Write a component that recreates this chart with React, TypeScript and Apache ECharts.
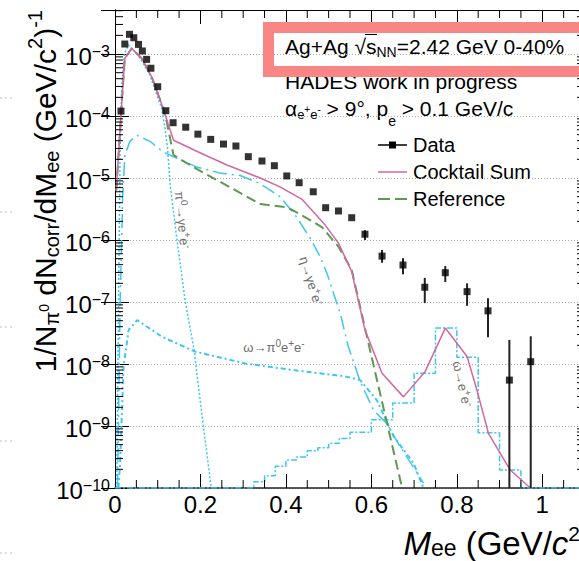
import React, { useEffect, useRef } from "react";
import * as echarts from "echarts";

const FONT = "'Liberation Sans', Arial, Helvetica, sans-serif";
const CYAN = "#3ec6f2";
const PINK = "#d3679f";
const GREEN = "#5b9a50";
const LABEL_GRAY = "#6e6e6e";

const X_MIN = 0;
const X_MAX = 1.1;
const Y_MIN = 1e-10;
const Y_MAX = 5.13e-3;

// tick labels
const xTickLabels = ["0", "0.2", "0.4", "0.6", "0.8", "1"];
const xMinorTicks = [0.05, 0.1, 0.15, 0.25, 0.3, 0.35, 0.45, 0.5, 0.55, 0.65, 0.7, 0.75, 0.85, 0.9, 0.95, 1.05];
const yDecades = [-10, -9, -8, -7, -6, -5, -4, -3];
const yMinorMultipliers = [2, 3, 4, 5, 6, 7, 8, 9];

// Data points
const dataMass = [0.014, 0.023, 0.034, 0.044, 0.055, 0.064, 0.074, 0.084, 0.1, 0.119, 0.136, 0.1655, 0.194, 0.224, 0.254, 0.283, 0.312, 0.344, 0.373, 0.402, 0.431, 0.464, 0.493, 0.523, 0.554, 0.585, 0.625, 0.674, 0.725, 0.773, 0.824, 0.873, 0.923, 0.973];
const dataYield = [1.2e-4, 1.45e-3, 2.08e-3, 1.83e-3, 1.43e-3, 1.12e-3, 8.2e-4, 5.9e-4, 2.97e-4, 1.22e-4, 7.8e-5, 6.6e-5, 5.1e-5, 4.2e-5, 3.53e-5, 3.28e-5, 2.21e-5, 1.88e-5, 1.58e-5, 1.08e-5, 8.4e-6, 6.0e-6, 3.32e-6, 2.94e-6, 2.29e-6, 1.24e-6, 5.5e-7, 3.95e-7, 1.73e-7, 2.97e-7, 1.47e-7, 7.2e-8, 5.5e-9, 1.09e-8];

// error bars (only where visible)
const errMass = [0.585, 0.625, 0.674, 0.725, 0.773, 0.824, 0.873, 0.923, 0.973];
const errLow = [1.0e-6, 4.3e-7, 2.8e-7, 9.6e-8, 2.1e-7, 8.7e-8, 2.7e-8, 1e-10, 1e-10];
const errHigh = [1.44e-6, 6.9e-7, 5.1e-7, 2.45e-7, 3.8e-7, 2.0e-7, 1.15e-7, 2.45e-8, 2.8e-8];

// Cocktail sum
const sumMass = [0.003, 0.016, 0.023, 0.039, 0.0625, 0.086, 0.109, 0.137, 0.195, 0.262, 0.34, 0.386, 0.437, 0.492, 0.523, 0.554, 0.585, 0.625, 0.675, 0.726, 0.773, 0.824, 0.847, 0.874, 0.902, 0.925, 0.972];
const sumYield = [6.3e-6, 1.7e-4, 8.5e-4, 1.23e-3, 8.5e-4, 4.27e-4, 1.58e-4, 4.07e-5, 2.63e-5, 1.62e-5, 1.0e-5, 7.2e-6, 4.57e-6, 1.74e-6, 8.9e-7, 3.09e-7, 3.55e-8, 7.1e-9, 2.95e-9, 7.6e-9, 3.8e-8, 1.32e-8, 3.8e-9, 7.6e-10, 3.6e-10, 1.95e-10, 1.0e-10];

// Reference
const refMass = [0.003, 0.016, 0.023, 0.039, 0.0625, 0.086, 0.109, 0.121, 0.137, 0.156, 0.195, 0.246, 0.3, 0.34, 0.402, 0.437, 0.484, 0.523, 0.554, 0.585, 0.628, 0.672];
const refYield = [6.3e-6, 1.7e-4, 8.5e-4, 1.23e-3, 8.5e-4, 4.27e-4, 1.58e-4, 8.1e-5, 2.34e-5, 1.95e-5, 1.35e-5, 8.7e-6, 5.4e-6, 3.8e-6, 3.39e-6, 2.51e-6, 1.62e-6, 7.8e-7, 3.3e-7, 3.8e-8, 2.0e-9, 1.0e-10];

// pi0 -> gamma e+e-
const pi0Mass = [0.004, 0.009, 0.012, 0.016, 0.022, 0.031, 0.045, 0.06, 0.08, 0.098, 0.109, 0.117, 0.123, 0.129, 0.145, 0.164, 0.185, 0.204, 0.219, 0.225];
const pi0Yield = [1e-10, 3.2e-7, 3.2e-5, 3.2e-4, 1.0e-3, 1.41e-3, 1.12e-3, 8.3e-4, 4.8e-4, 2.19e-4, 1.35e-4, 6.3e-5, 3.0e-5, 7.9e-6, 1.0e-6, 1.07e-7, 1.7e-8, 1.41e-9, 2.2e-10, 1e-10];

// eta -> gamma e+e-
const etaMass = [0.006, 0.012, 0.018, 0.023, 0.035, 0.051, 0.082, 0.113, 0.144, 0.191, 0.246, 0.293, 0.34, 0.386, 0.422, 0.457, 0.48, 0.496, 0.527, 0.546, 0.575, 0.605, 0.636, 0.667, 0.722];
const etaYield = [1e-10, 1e-7, 5.0e-6, 2.34e-5, 3.9e-5, 4.9e-5, 3.9e-5, 2.63e-5, 2.09e-5, 1.51e-5, 1.2e-5, 1.1e-5, 8.1e-6, 5.0e-6, 2.51e-6, 1.07e-6, 5.4e-7, 2.9e-7, 6.6e-8, 1.9e-8, 5.0e-9, 1.8e-9, 1.1e-9, 4.7e-10, 1.2e-10];

// omega -> pi0 e+e-
const omdMass = [0.008, 0.012, 0.02, 0.032, 0.052, 0.11, 0.188, 0.305, 0.422, 0.539, 0.574, 0.613, 0.652, 0.699, 0.722];
const omdYield = [1e-10, 2.5e-10, 9.1e-9, 3.55e-8, 5.1e-8, 2.75e-8, 1.58e-8, 1.02e-8, 7.9e-9, 6.3e-9, 5.5e-9, 2.6e-9, 6.8e-10, 2.5e-10, 1e-10];

// omega -> e+e- (histogram)
const histEdges = [0.325, 0.35, 0.375, 0.4, 0.425, 0.45, 0.475, 0.5, 0.525, 0.55, 0.6, 0.65, 0.7, 0.75, 0.8, 0.85, 0.9, 0.95];
const histValues = [1.26e-10, 1.58e-10, 2.24e-10, 2.82e-10, 3.16e-10, 3.98e-10, 4.47e-10, 5.25e-10, 6.3e-10, 7.9e-10, 1.26e-9, 2.34e-9, 7.1e-9, 3.8e-8, 1.29e-8, 7.8e-10, 1.95e-10];

const pairs = (xs: number[], ys: number[]) => xs.map((x, i) => [x, ys[i]]);

function buildOption(): any {
  const histLine: number[][] = [[X_MIN, Y_MIN], [histEdges[0], Y_MIN]];
  histValues.forEach((v, i) => {
    histLine.push([histEdges[i], v], [histEdges[i + 1], v]);
  });
  histLine.push([histEdges[histEdges.length - 1], Y_MIN], [X_MAX, Y_MIN]);

  const yMinor: number[][] = [];
  yDecades.forEach((e) =>
    yMinorMultipliers.forEach((k) => {
      const v = k * Math.pow(10, e);
      if (v < Y_MAX) yMinor.push([X_MIN, v]);
    })
  );

  const curve = (name: string, data: number[][], color: string, width: number, type: any, z: number) => ({
    name,
    type: "line",
    data,
    showSymbol: false,
    symbol: "none",
    silent: true,
    clip: true,
    z,
    lineStyle: { color, width, type },
  });

  const yLabel = (v: number) => {
    const e = Math.log10(v);
    const r = Math.round(e);
    if (Math.abs(e - r) > 1e-6) return "";
    return `{b|10}{s|\u2212${-r}}`;
  };
  const xLabel = (v: number) => {
    const i = Math.round(v / 0.2);
    return Math.abs(v - i * 0.2) < 1e-6 && i < xTickLabels.length ? xTickLabels[i] : "";
  };

  const axisLineStyle = { color: "#000", width: 1 };

  const txt = (x: number, y: number, text: string, rich: any) => ({
    type: "text",
    x,
    y,
    silent: true,
    style: {
      text,
      fontFamily: FONT,
      fill: "#000",
      align: "left",
      verticalAlign: "middle",
      rich,
    },
  });

  const richMain = (size: number, color = "#000") => ({ fontSize: size, fontFamily: FONT, fill: color });

  const graphic: any[] = [];
  // faint dotted artifacts on left margin
  [98, 212, 327, 441, 553].forEach((y) =>
    graphic.push({
      type: "line",
      silent: true,
      shape: { x1: 0, y1: y, x2: 15, y2: y },
      style: { stroke: "#bdbdbd", lineWidth: 1, lineDash: [2, 3] },
    })
  );

  // Y title
  graphic.push({
    type: "text",
    x: 45,
    y: 10,
    rotation: Math.PI / 2,
    silent: true,
    style: {
      text: "{m|1/N}{s|\u03c0}{q|0}{m| dN}{s|corr}{m|/dM}{s|ee}{m| (GeV/c}{p|2}{m|)}{p|-1}",
      align: "right",
      verticalAlign: "middle",
      rich: {
        m: richMain(30),
        s: { ...richMain(20), padding: [14, 0, 0, 0] },
        q: { ...richMain(14), padding: [0, 0, 2, 0] },
        p: { ...richMain(20), padding: [0, 0, 20, 0] },
      },
    },
  });

  // X title (cut at right edge, as in the original)
  graphic.push({
    type: "text",
    x: 591,
    y: 543,
    silent: true,
    style: {
      text: "{i|M}{s|ee}{m| (GeV/}{i|c}{p|2}{m|)}",
      align: "right",
      verticalAlign: "middle",
      rich: {
        i: { ...richMain(33), fontStyle: "italic" },
        m: richMain(33),
        s: { ...richMain(23), padding: [10, 0, 0, 0] },
        p: { ...richMain(21), padding: [0, 0, 20, 0] },
      },
    },
  });

  // Info texts
  graphic.push(
    txt(285, 46, "{m|Ag+Ag }{m|\u221a}{m|s}{s|NN}{m|=2.42 GeV 0-40%}", {
      m: richMain(21),
      s: { ...richMain(14), padding: [12, 0, 0, 0] },
    })
  );
  graphic.push({
    type: "line",
    silent: true,
    shape: { x1: 365, y1: 34.5, x2: 377, y2: 34.5 },
    style: { stroke: "#000", lineWidth: 1 },
  });
  graphic.push(txt(285, 81, "{m|HADES work in progress}", { m: richMain(21) }));
  graphic.push(
    txt(285, 108, "{m|\u03b1}{s|e}{t|+}{s|e}{t|-}{m| > 9\u00b0, p}{u|e}{m| > 0.1 GeV/c}", {
      m: richMain(21),
      s: { ...richMain(13), padding: [12, 0, 0, 0] },
      t: { ...richMain(10), padding: [2, 0, 0, 0] },
      u: { ...richMain(14), padding: [26, 0, 0, 0] },
    })
  );
  // pink highlight box
  graphic.push({
    type: "rect",
    silent: true,
    z: 100,
    shape: { x: 268.5, y: 27.5, width: 400, height: 44 },
    style: { fill: "none", stroke: "#f98585", lineWidth: 11 },
  });

  // legend
  const legX1 = 378;
  const legX2 = 407;
  graphic.push({ type: "line", silent: true, shape: { x1: legX1, y1: 145, x2: legX2, y2: 145 }, style: { stroke: "#000", lineWidth: 1.5 } });
  graphic.push({ type: "rect", silent: true, shape: { x: 389, y: 141.5, width: 7, height: 7 }, style: { fill: "#000" } });
  graphic.push(txt(413, 145, "{m|Data}", { m: richMain(20) }));
  graphic.push({ type: "line", silent: true, shape: { x1: legX1, y1: 172, x2: legX2, y2: 172 }, style: { stroke: PINK, lineWidth: 1.5 } });
  graphic.push(txt(413, 172, "{m|Cocktail Sum}", { m: richMain(20) }));
  graphic.push({ type: "line", silent: true, shape: { x1: legX1, y1: 199, x2: legX2, y2: 199 }, style: { stroke: GREEN, lineWidth: 2, lineDash: [12, 5] } });
  graphic.push(txt(413, 199, "{m|Reference}", { m: richMain(20) }));

  // curve labels
  const lblRich = {
    m: richMain(13, LABEL_GRAY),
    p: { ...richMain(10, LABEL_GRAY), padding: [0, 0, 8, 0] },
  };
  graphic.push({
    type: "text",
    x: 182,
    y: 220,
    rotation: -1.477,
    silent: true,
    style: { text: "{m|\u03c0}{p|0}{m|\u2192\u03b3e}{p|+}{m|e}{p|-}", align: "center", verticalAlign: "middle", rich: lblRich },
  });
  graphic.push({
    type: "text",
    x: 311,
    y: 281,
    rotation: -1.27,
    silent: true,
    style: { text: "{m|\u03b7\u2192\u03b3e}{p|+}{m|e}{p|-}", align: "center", verticalAlign: "middle", rich: lblRich },
  });
  graphic.push({
    type: "text",
    x: 462,
    y: 384,
    rotation: -1.35,
    silent: true,
    style: { text: "{m|\u03c9\u2192e}{p|+}{m|e}{p|-}", align: "center", verticalAlign: "middle", rich: lblRich },
  });
  graphic.push({
    type: "text",
    x: 274,
    y: 347,
    silent: true,
    style: { text: "{m|\u03c9\u2192\u03c0}{p|0}{m|e}{p|+}{m|e}{p|-}", align: "center", verticalAlign: "middle", rich: lblRich },
  });

  return {
    animation: false,
    backgroundColor: "#fff",
    textStyle: { fontFamily: FONT },
    grid: { left: 115, top: 10, right: -6, bottom: 73, containLabel: false, outerBoundsMode: "none" },
    xAxis: [
      {
        type: "value",
        position: "bottom",
        min: X_MIN,
        max: X_MAX,
        interval: 0.2,
        axisLine: { show: true, onZero: false, lineStyle: { color: "#222", width: 1.5 } },
        axisTick: { show: true, inside: true, length: 14, lineStyle: { color: "#000" } },
        axisLabel: { show: true, formatter: xLabel, fontSize: 24, fontFamily: FONT, color: "#000", margin: 4, showMinLabel: true, showMaxLabel: true },
        splitLine: { show: false },
      },
      {
        type: "value",
        position: "top",
        min: X_MIN,
        max: X_MAX,
        interval: 0.2,
        axisLine: { show: true, onZero: false, lineStyle: axisLineStyle },
        axisTick: { show: true, inside: true, length: 14, lineStyle: { color: "#000" } },
        axisLabel: { show: false },
        splitLine: { show: false },
      },
    ],
    yAxis: [
      {
        type: "log",
        logBase: 10,
        position: "left",
        min: Y_MIN,
        max: Y_MAX,
        axisLine: { show: true, lineStyle: axisLineStyle },
        axisTick: { show: true, inside: true, length: 14, lineStyle: { color: "#000" } },
        axisLabel: {
          show: true,
          formatter: yLabel,
          margin: 5,
          showMinLabel: true,
          showMaxLabel: true,
          rich: {
            b: { fontSize: 24, fontFamily: FONT, color: "#000", padding: [5, 0, 0, 0] },
            s: { fontSize: 16, fontFamily: FONT, color: "#000", padding: [0, 0, 6, 0] },
          },
        },
        splitLine: { show: true, lineStyle: { color: "#a8a8a8", width: 1, type: [1, 2] } },
      },
      {
        type: "log",
        logBase: 10,
        position: "right",
        min: Y_MIN,
        max: Y_MAX,
        axisLine: { show: true, lineStyle: axisLineStyle },
        axisTick: { show: true, inside: true, length: 14, lineStyle: { color: "#000" } },
        axisLabel: { show: false },
        splitLine: { show: false },
      },
    ],
    series: [
      curve("omega e+e- histogram", histLine, CYAN, 1.5, [6, 2, 2, 2], 2),
      curve("omega Dalitz", pairs(omdMass, omdYield), CYAN, 2, [5, 3, 2, 3], 2),
      curve("eta Dalitz", pairs(etaMass, etaYield), CYAN, 1.5, [14, 5, 2, 5], 2),
      curve("pi0 Dalitz", pairs(pi0Mass, pi0Yield), CYAN, 1.5, [2, 2], 2),
      curve("Reference", pairs(refMass, refYield), GREEN, 2, [10, 5], 3),
      curve("Cocktail Sum", pairs(sumMass, sumYield), PINK, 1.5, "solid", 4),
      {
        name: "errors",
        type: "custom",
        silent: true,
        clip: true,
        z: 5,
        data: errMass.map((m, i) => [m, errLow[i], errHigh[i]]),
        renderItem: (_p: any, api: any) => {
          const a = api.coord([api.value(0), api.value(1)]);
          const b = api.coord([api.value(0), api.value(2)]);
          return {
            type: "line",
            shape: { x1: a[0], y1: a[1], x2: b[0], y2: b[1] },
            style: { stroke: "#222", lineWidth: 2 },
          };
        },
      },
      {
        name: "Data",
        type: "scatter",
        symbol: "rect",
        symbolSize: 7,
        silent: true,
        z: 6,
        itemStyle: { color: "#000" },
        data: pairs(dataMass, dataYield),
      },
      {
        name: "yMinor",
        type: "custom",
        silent: true,
        z: 7,
        data: yMinor,
        renderItem: (_p: any, api: any) => {
          const v = api.value(1);
          const l = api.coord([X_MIN, v]);
          const r = api.coord([X_MAX, v]);
          return {
            type: "group",
            children: [
              { type: "line", shape: { x1: l[0], y1: l[1], x2: l[0] + 8, y2: l[1] }, style: { stroke: "#000", lineWidth: 1 } },
              { type: "line", shape: { x1: r[0], y1: r[1], x2: r[0] - 8, y2: r[1] }, style: { stroke: "#000", lineWidth: 1 } },
            ],
          };
        },
      },
      {
        name: "xMinor",
        type: "custom",
        silent: true,
        z: 7,
        data: xMinorTicks.map((x) => [x, Y_MIN]),
        renderItem: (_p: any, api: any) => {
          const x = api.value(0);
          const b = api.coord([x, Y_MIN]);
          const t = api.coord([x, Y_MAX]);
          return {
            type: "group",
            children: [
              { type: "line", shape: { x1: b[0], y1: b[1], x2: b[0], y2: b[1] - 8 }, style: { stroke: "#000", lineWidth: 1 } },
              { type: "line", shape: { x1: t[0], y1: t[1], x2: t[0], y2: t[1] + 8 }, style: { stroke: "#000", lineWidth: 1 } },
            ],
          };
        },
      },
    ],
    graphic,
  };
}

export default function App() {
  const ref = useRef<HTMLDivElement>(null);
  useEffect(() => {
    if (!ref.current) return;
    const chart = echarts.init(ref.current, undefined, { renderer: "svg" });
    chart.setOption(buildOption());
    return () => chart.dispose();
  }, []);
  return (
    <div
      ref={ref}
      style={{ position: "absolute", left: 0, top: 0, width: 579, height: 561, background: "#fff" }}
    />
  );
}
